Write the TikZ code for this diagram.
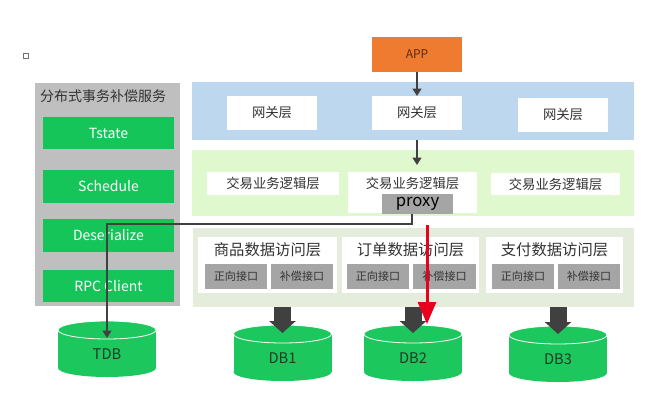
\documentclass[tikz,border=0pt]{standalone}
\usepackage{fontspec}
\setmainfont{Noto Sans CJK SC}
\usetikzlibrary{arrows.meta,calc}
\definecolor{panelgray}{HTML}{BFBFBF}
\definecolor{boxgreen}{HTML}{15C55A}
\definecolor{dbgreen}{HTML}{1CC75E}
\definecolor{apporange}{HTML}{EE7B30}
\definecolor{apptxt}{HTML}{5A2C0C}
\definecolor{blueband}{HTML}{BDD7EE}
\definecolor{greenband}{HTML}{E0F8CE}
\definecolor{dalband}{HTML}{E4ECDB}
\definecolor{subgray}{HTML}{A5A5A5}
\definecolor{arrowgray}{HTML}{404040}
\definecolor{arrowred}{HTML}{E8001C}
\definecolor{txtdark}{HTML}{333333}
\definecolor{dbtxt}{HTML}{1C3B24}
\tikzset{
  base/.style={inner sep=0pt, outer sep=0pt},
  band/.style={base, rectangle},
  greenbox/.style={base, fill=boxgreen, text=white, font=\fontsize{10.5pt}{12pt}\selectfont},
  whitebox/.style={base, fill=white, text=txtdark, font=\fontsize{10pt}{12pt}\selectfont},
  subbox/.style={base, fill=subgray, text=txtdark, font=\fontsize{8.3pt}{10pt}\selectfont, minimum height=18.75pt},
  grouptitle/.style={base, text=txtdark, font=\fontsize{11.5pt}{13pt}\selectfont},
  dblabel/.style={base, text=dbtxt, font=\fontsize{11pt}{12pt}\selectfont},
  thinarrow/.style={draw=arrowgray, line width=1.9pt, -{Triangle[width=6.5pt,length=5.5pt]}},
  fatarrow/.style={draw=arrowgray, line width=12.75pt, -{Triangle[width=19.5pt,length=9pt]}},
  redarrow/.style={draw=arrowred, line width=2.25pt, -{Triangle[width=13.5pt,length=16.5pt]}}
}
\begin{document}
\begin{tikzpicture}[x=0.75pt,y=-0.75pt]
\useasboundingbox (0,0) rectangle (667,418);
% small square
\node[base, draw=gray!90!black, line width=0.8pt, minimum size=3.5pt] (sq) at (26,56) {};
% left panel
\node[band, fill=panelgray, minimum width=145*0.75pt, minimum height=223*0.75pt] (panel) at (107.5,194.5) {};
\node[base, text=txtdark, font=\fontsize{10.5pt}{12pt}\selectfont] (ptitle) at (103,96) {分布式事务补偿服务};
\node[greenbox, minimum width=131*0.75pt, minimum height=32*0.75pt] (tstate) at (108.5,133) {Tstate};
\node[greenbox, minimum width=131*0.75pt, minimum height=33*0.75pt] (sched) at (108.5,186.5) {Schedule};
\node[greenbox, minimum width=131*0.75pt, minimum height=33*0.75pt] (deser) at (108.5,235.5) {Deserialize};
\node[greenbox, minimum width=131*0.75pt, minimum height=32*0.75pt] (rpc) at (108.5,286) {RPC Client};
% APP
\node[base, fill=apporange, text=apptxt, font=\fontsize{9pt}{11pt}\selectfont, minimum width=90*0.75pt, minimum height=35*0.75pt] (app) at (417,54.5) {APP};
% gateway band
\node[band, fill=blueband, minimum width=442*0.75pt, minimum height=58*0.75pt] (gwband) at (413,111) {};
\node[whitebox, minimum width=90*0.75pt, minimum height=34*0.75pt] (gw1) at (272,113) {网关层};
\node[whitebox, minimum width=90*0.75pt, minimum height=34*0.75pt] (gw2) at (417,113) {网关层};
\node[whitebox, minimum width=90*0.75pt, minimum height=34*0.75pt] (gw3) at (563,115) {网关层};
% logic band
\node[band, fill=greenband, minimum width=442*0.75pt, minimum height=66*0.75pt] (lgband) at (413,183) {};
\node[whitebox, minimum width=132*0.75pt, minimum height=23*0.75pt] (lg1) at (273,183.5) {交易业务逻辑层};
\node[whitebox, minimum width=129*0.75pt, minimum height=41*0.75pt] (lg2) at (412.5,192.5) {};
\node[base, text=txtdark, font=\fontsize{10pt}{12pt}\selectfont] (lg2t) at (412.5,183.5) {交易业务逻辑层};
\node[whitebox, minimum width=129*0.75pt, minimum height=22*0.75pt] (lg3) at (555.5,184) {交易业务逻辑层};
\node[base, fill=subgray, text=black, font=\fontsize{12.5pt}{14pt}\selectfont, minimum width=71*0.75pt, minimum height=20*0.75pt] (proxy) at (417.5,204) {proxy};
% data access band
\node[band, fill=dalband, minimum width=441*0.75pt, minimum height=79*0.75pt] (dalband) at (413.5,267.5) {};
\node[base, fill=white, minimum width=139*0.75pt, minimum height=56*0.75pt] (g1) at (267.5,265) {};
\node[base, fill=white, minimum width=137*0.75pt, minimum height=56*0.75pt] (g2) at (410.5,265) {};
\node[base, fill=white, minimum width=137*0.75pt, minimum height=56*0.75pt] (g3) at (554.5,265) {};
\node[grouptitle] (g1t) at (267.5,250) {商品数据访问层};
\node[grouptitle] (g2t) at (410.5,250) {订单数据访问层};
\node[grouptitle] (g3t) at (554.5,250) {支付数据访问层};
\node[subbox, minimum width=62*0.75pt] (s1a) at (236,276.5) {正向接口};
\node[subbox, minimum width=62*0.75pt] (s1b) at (302,276.5) {补偿接口};
\node[subbox, minimum width=62*0.75pt] (s2a) at (378,276.5) {正向接口};
\node[subbox, minimum width=63*0.75pt] (s2b) at (444.5,276.5) {补偿接口};
\node[subbox, minimum width=62*0.75pt] (s3a) at (523,276.5) {正向接口};
\node[subbox, minimum width=62*0.75pt] (s3b) at (589,276.5) {补偿接口};
% databases
\foreach \nm/\cx/\tp/\bt/\lab in {tdb/107/321/377/TDB, db1/282.5/325/381/DB1, db2/413/325/381/DB2, db3/558/326/382/DB3} {
  \fill[dbgreen] (\cx-49,\tp+9) rectangle (\cx+49,\bt-9);
  \fill[dbgreen] (\cx,\bt-9) ellipse (49 and 9);
  \fill[dbgreen] (\cx,\tp+9) ellipse (49 and 9);
  \draw[white, line width=0.6pt] (\cx,\tp+9) ellipse (49 and 9);
  \node[dblabel] (\nm) at (\cx,\bt-23) {\lab};
  \coordinate (\nm-mid) at (\cx,\tp+8);
  \coordinate (\nm-front) at (\cx,\tp+17);
}
% connectors
\draw[thinarrow] (app) -- (gw2);
\draw[thinarrow, shorten >=5.25pt] (gwband.south -| gw2.south) -- (gw2.south |- lg2.north);
\draw[thinarrow] ([xshift=-4pt]proxy.south) -- ++(0,10) -| (tdb-front);
\draw[fatarrow] (dalband.south -| db1-mid) -- (db1-mid);
\draw[fatarrow] (dalband.south -| db2-mid) -- (db2-mid);
\draw[fatarrow] (dalband.south -| db3-mid) -- (db3-mid);
\coordinate (rstart) at (427,225);
\coordinate (rend) at (427,324);
\draw[redarrow] (rstart) -- (rend);
\end{tikzpicture}
\end{document}
